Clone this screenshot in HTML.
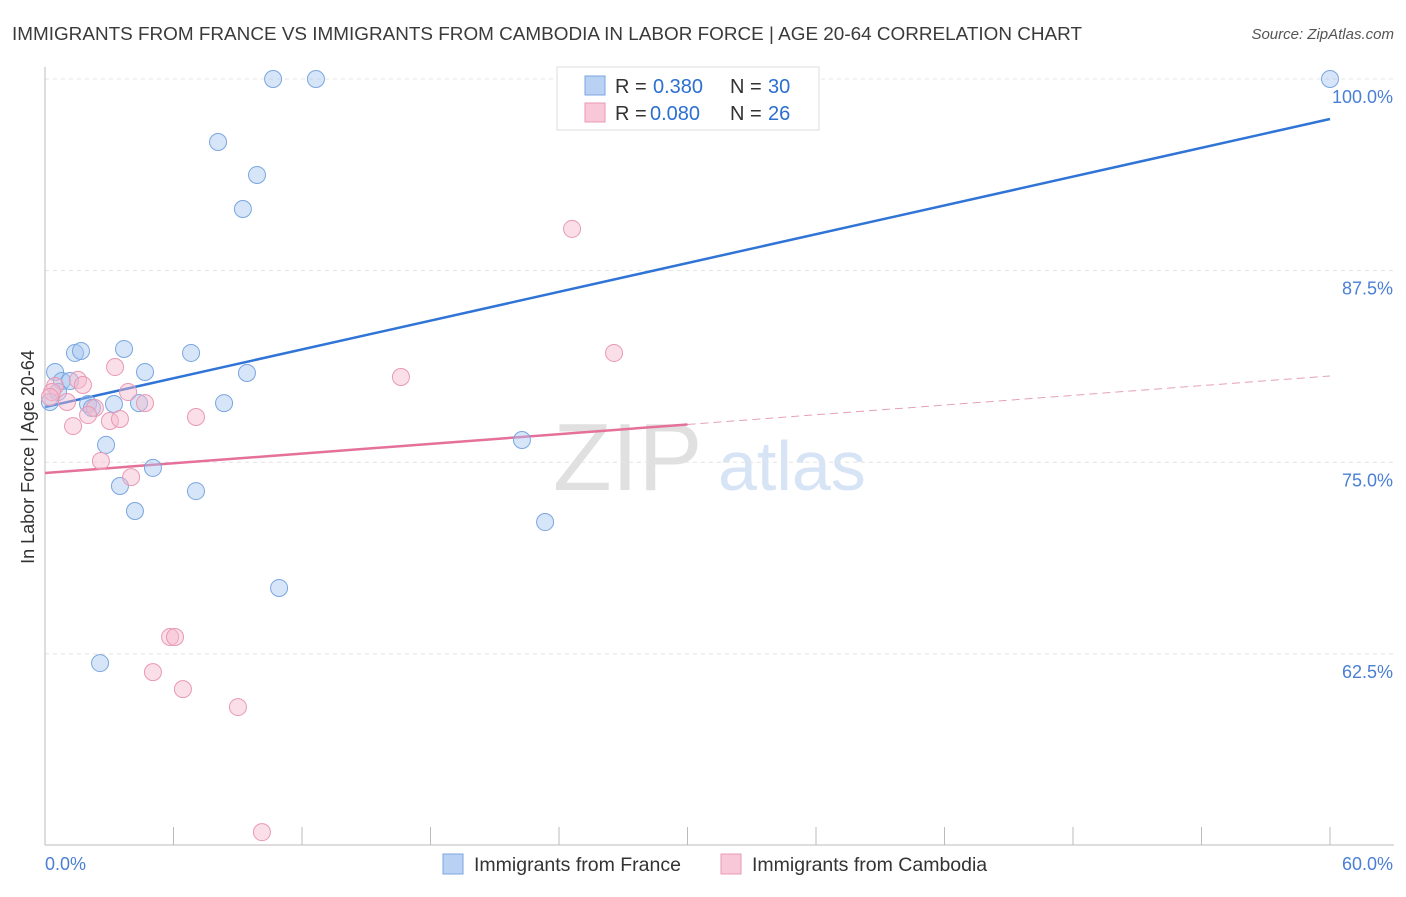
<!DOCTYPE html>
<html><head><meta charset="utf-8"><style>
body{margin:0;background:#fff;font-family:"Liberation Sans",sans-serif;}
svg text{font-family:"Liberation Sans",sans-serif;}
</style></head><body>
<svg id="chart" width="1406" height="892" viewBox="0 0 1406 892">
<text x="12" y="40" font-size="18" fill="#3a3a3a" textLength="1070" lengthAdjust="spacingAndGlyphs">IMMIGRANTS FROM FRANCE VS IMMIGRANTS FROM CAMBODIA IN LABOR FORCE | AGE 20-64 CORRELATION CHART</text>
<text x="1394" y="39" font-size="15" fill="#555" text-anchor="end" font-style="italic">Source: ZipAtlas.com</text>
<text x="553" y="490" font-size="96" fill="#e0e0e0" font-family="Liberation Serif">ZIP</text>
<text x="718" y="490" font-size="70" fill="#d6e4f5">atlas</text>
<text transform="translate(34,457) rotate(-90)" font-size="18" fill="#333" text-anchor="middle">In Labor Force | Age 20-64</text>
<g id="grid"></g><g id="axes"></g><g id="lines"></g><g id="points"></g>
<g>
<rect x="557" y="67" width="262" height="63" fill="#fff" stroke="#ddd"/>
<rect x="585" y="76" width="20" height="19" fill="#b9d2f4" stroke="#7aa6e0"/>
<text x="615" y="93" font-size="20" fill="#333">R =</text>
<text x="653" y="93" font-size="20" fill="#2a6fd1">0.380</text>
<text x="730" y="93" font-size="20" fill="#333">N =</text>
<text x="768" y="93" font-size="20" fill="#2a6fd1">30</text>
<rect x="585" y="103" width="20" height="19" fill="#f8c8d8" stroke="#e899b4"/>
<text x="615" y="120" font-size="20" fill="#333">R =</text>
<text x="650" y="120" font-size="20" fill="#2a6fd1">0.080</text>
<text x="730" y="120" font-size="20" fill="#333">N =</text>
<text x="768" y="120" font-size="20" fill="#2a6fd1">26</text>
</g>
<g><rect x="443" y="854" width="20" height="20" fill="#b9d2f4" stroke="#7aa6e0"/><text x="474" y="871" font-size="19.5" fill="#333">Immigrants from France</text></g>
<g><rect x="721" y="854" width="20" height="20" fill="#f8c8d8" stroke="#e899b4"/><text x="752" y="871" font-size="19.5" fill="#333">Immigrants from Cambodia</text></g>
</svg>
<script>
const franceX=[10.65,12.65,60,8.08,9.90,9.24,0.47,1.40,1.68,3.69,4.67,6.82,9.43,0.79,1.17,0.61,0.23,2.01,3.22,4.39,8.36,2.19,2.85,5.04,3.50,7.05,4.20,22.27,23.35,10.93,2.57];
const franceY=[100,100,100,95.89,93.74,91.52,80.89,82.13,82.26,82.39,80.89,82.13,80.82,80.30,80.30,79.58,78.93,78.80,78.80,78.86,78.86,78.54,76.13,74.63,73.45,73.12,71.82,76.45,71.10,66.80,61.90];
const cambX=[24.61,26.57,16.62,3.27,1.54,1.77,0.47,0.33,1.03,3.88,4.67,2.33,2.01,3.03,3.50,7.05,1.31,2.61,4.02,5.84,6.07,5.04,6.44,9.01,10.13,0.23];
const cambY=[90.22,82.13,80.56,81.21,80.37,80.04,79.97,79.58,78.93,79.58,78.86,78.54,78.08,77.69,77.82,77.95,77.36,75.08,74.03,63.60,63.60,61.31,60.20,59.03,50.87,79.26];
const franceLine=[78.60,97.39];
const cambLine=[74.30,80.63];
const yTicks=[100,87.5,75,62.5];
const yTickLabels=["100.0%","87.5%","75.0%","62.5%"];
const xTicks=[0,6,12,18,24,30,36,42,48,54,60];
const NS="http://www.w3.org/2000/svg";
const xs=v=>45+v/60*1285;
const ys=v=>79+(100-v)*15.33;
function mk(tag,parent,attrs){const e=document.createElementNS(NS,tag);for(const k in attrs)e.setAttribute(k,attrs[k]);document.getElementById(parent).appendChild(e);return e;}
yTicks.forEach((t,i)=>{
 const l=mk('line','grid',{x1:45,x2:1394,y1:ys(t),y2:ys(t),stroke:'#e4e4e4','stroke-dasharray':'4,4'});
 
 
 const tx=mk('text','axes',{x:1393,y:ys(t)+24,'font-size':18,fill:'#4a7fd4','text-anchor':'end'});
 tx.textContent=yTickLabels[i];
 
 
});
const ax=mk('line','axes',{x1:45,x2:45,y1:67,y2:845,stroke:'#bbb'});


const bx=mk('line','axes',{x1:45,x2:1394,y1:845,y2:845,stroke:'#bbb'});


xTicks.forEach(t=>{const l=mk('line','axes',{x1:xs(t),x2:xs(t),y1:827,y2:845,stroke:'#bbb'});
 
 });
const xl0=mk('text','axes',{x:45,y:870,'font-size':18,fill:'#4a7fd4'});xl0.textContent=xTicks[0].toFixed(1)+'%';


const xl1=mk('text','axes',{x:1393,y:870,'font-size':18,fill:'#4a7fd4','text-anchor':'end'});xl1.textContent=xTicks[xTicks.length-1].toFixed(1)+'%';


franceX.forEach((x,i)=>{const c=mk('circle','points',{cx:xs(x),cy:ys(franceY[i]),r:8.5,fill:'rgba(165,198,240,0.45)',stroke:'#7aa6e0','stroke-width':1});
 
 });
cambX.forEach((x,i)=>{const c=mk('circle','points',{cx:xs(x),cy:ys(cambY[i]),r:8.5,fill:'rgba(246,184,204,0.45)',stroke:'#e899b4','stroke-width':1});
 
 });
const bl=mk('line','lines',{x1:xs(0),y1:ys(franceLine[0]),x2:xs(60),y2:ys(franceLine[1]),stroke:'#2f74d6','stroke-width':2.5});


const pm=cambLine[0]+(cambLine[1]-cambLine[0])*0.5;
const pl=mk('line','lines',{x1:xs(0),y1:ys(cambLine[0]),x2:xs(30),y2:ys(pm),stroke:'#e5709a','stroke-width':2.5});


const pd=mk('line','lines',{x1:xs(30),y1:ys(pm),x2:xs(60),y2:ys(cambLine[1]),stroke:'#e5a0b8','stroke-width':1,'stroke-dasharray':'8,5'});


</script>
</body></html>
